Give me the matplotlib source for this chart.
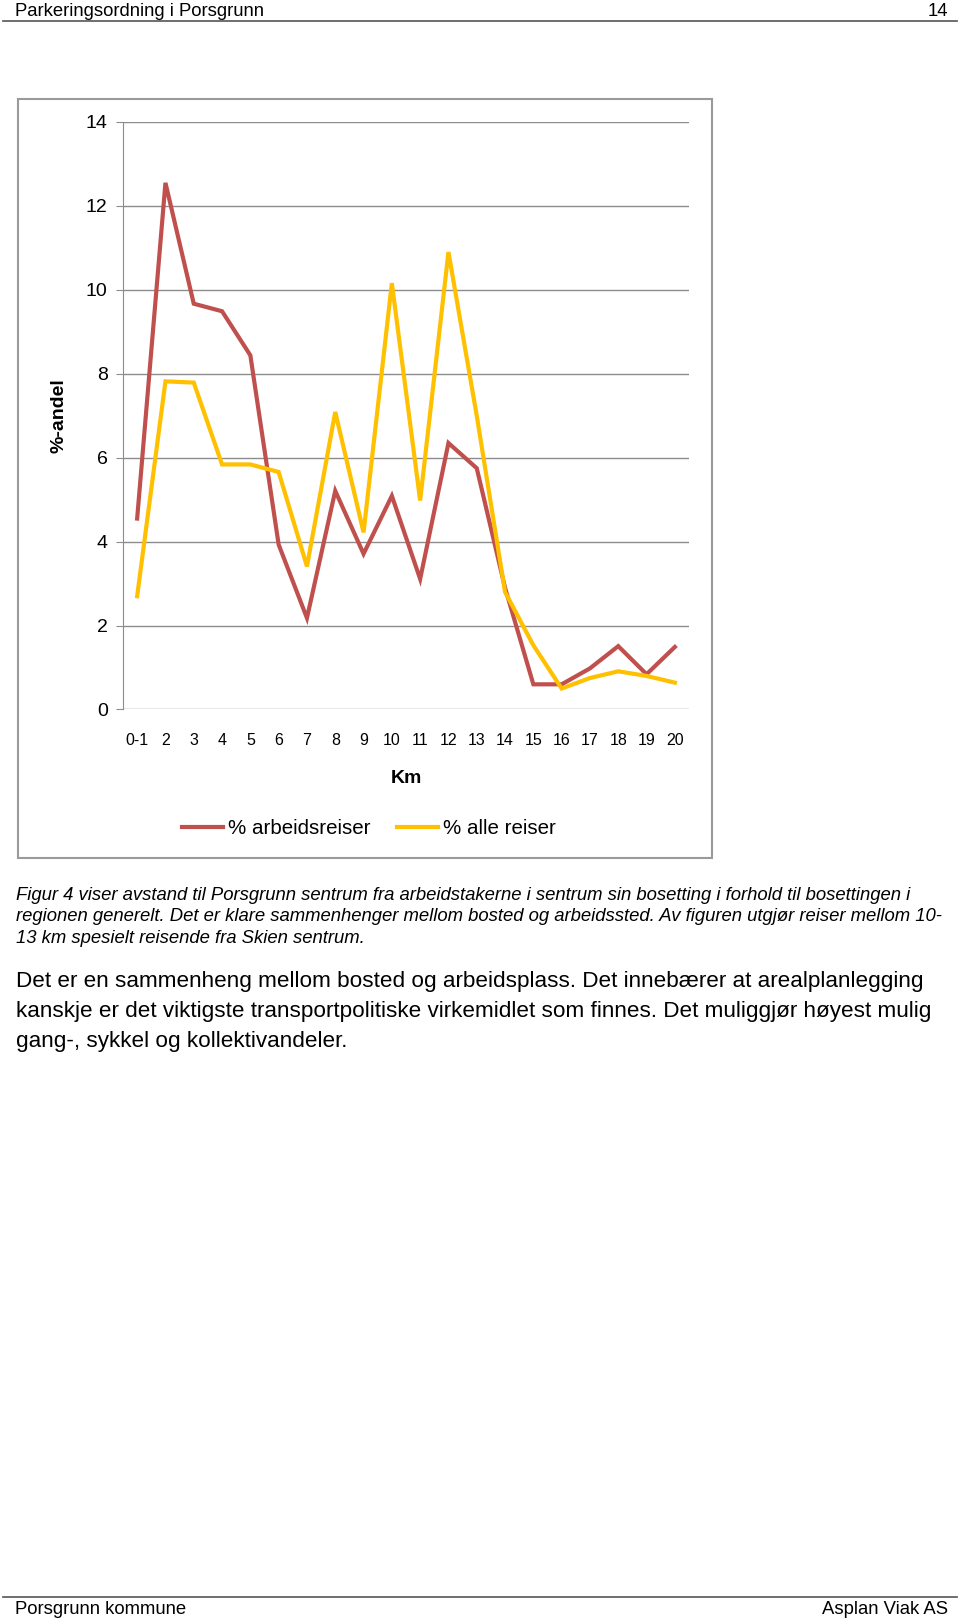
import matplotlib
matplotlib.use("Agg")
import matplotlib.pyplot as plt
from matplotlib.patches import Rectangle
from matplotlib.lines import Line2D

plt.rcParams['font.family'] = ['Liberation Sans', 'DejaVu Sans']

# data
km = ['0-1', '2', '3', '4', '5', '6', '7', '8', '9', '10', '11', '12', '13',
      '14', '15', '16', '17', '18', '19', '20']
arbeidsreiser = [4.55, 12.55, 9.67, 9.49, 8.44, 3.93, 2.18, 5.21, 3.71, 5.09, 3.11,
                 6.35, 5.75, 2.9, 0.6, 0.6, 0.98, 1.51, 0.84, 1.49]
alle_reiser = [2.70, 7.82, 7.79, 5.84, 5.84, 5.66, 3.41, 7.09, 4.22, 10.16, 4.98,
               10.9, 7.0, 2.8, 1.53, 0.5, 0.75, 0.91, 0.8, 0.64]
yticks = [0, 2, 4, 6, 8, 10, 12, 14]

header_left = 'Parkeringsordning i Porsgrunn'
header_right = '14'
footer_left = 'Porsgrunn kommune'
footer_right = 'Asplan Viak AS'
caption = ['Figur 4 viser avstand til Porsgrunn sentrum fra arbeidstakerne i sentrum sin bosetting i forhold til bosettingen i',
           'regionen generelt. Det er klare sammenhenger mellom bosted og arbeidssted. Av figuren utgjør reiser mellom 10-',
           '13 km spesielt reisende fra Skien sentrum.']
body = ['Det er en sammenheng mellom bosted og arbeidsplass. Det innebærer at arealplanlegging',
        'kanskje er det viktigste transportpolitiske virkemidlet som finnes. Det muliggjør høyest mulig',
        'gang-, sykkel og kollektivandeler.']

RED = '#C0504D'
YEL = '#FFC000'
GRID = '#8C8C8C'

W, H = 960, 1620
fig = plt.figure(figsize=(W / 100, H / 100), dpi=100)

def fx(px):
    return px / W

def fy(py):
    return 1 - py / H

# page header / footer
fig.text(fx(15), fy(11), header_left, fontsize=13.3, va='center', ha='left')
fig.text(fx(948), fy(11), header_right, fontsize=13.3, va='center', ha='right')
fig.add_artist(Line2D([fx(3), fx(957)], [fy(21), fy(21)], color='#555555', lw=1.2))
fig.add_artist(Line2D([fx(3), fx(957)], [fy(1597), fy(1597)], color='#555555', lw=1.2))
fig.text(fx(15), fy(1609), footer_left, fontsize=13.3, va='center', ha='left')
fig.text(fx(948), fy(1609), footer_right, fontsize=13.3, va='center', ha='right')

# chart frame
fig.add_artist(Rectangle((fx(17.5), fy(858)), fx(712) - fx(17.5), fy(99) - fy(858),
                         transform=fig.transFigure, fill=False, edgecolor='#9A9A9A', lw=1.5))

ax = fig.add_axes([fx(123), fy(709.5), fx(689) - fx(123), fy(122) - fy(709.5)])
x = range(len(km))
ax.plot(x, arbeidsreiser, color=RED, lw=3, solid_joinstyle='miter')
ax.plot(x, alle_reiser, color=YEL, lw=3, solid_joinstyle='miter')
ax.set_xlim(-0.5, len(km) - 0.5)
ax.set_ylim(0, 14)
ax.set_yticks(yticks)
ax.set_xticks(list(x))
ax.set_xticklabels(km)
ax.grid(axis='y', color=GRID, lw=1)
ax.set_axisbelow(True)
for s in ['top', 'right', 'bottom']:
    ax.spines[s].set_visible(False)
ax.spines['left'].set_color(GRID)
ax.tick_params(axis='y', colors=GRID, labelcolor='black', labelsize=14, length=5, pad=6)
ax.tick_params(axis='x', length=0, labelsize=11.5, pad=17)
ax.set_xlabel('Km', fontsize=14, fontweight='bold', labelpad=16)
ax.set_ylabel('%-andel', fontsize=14, fontweight='bold', labelpad=13)

# legend
handles = [Line2D([], [], color=RED, lw=3), Line2D([], [], color=YEL, lw=3)]
fig.legend(handles, ['% arbeidsreiser', '% alle reiser'], loc='center',
           bbox_to_anchor=(fx(369), fy(829)), ncol=2, frameon=False,
           fontsize=14.8, handlelength=2.0, handletextpad=0.25, columnspacing=1.3)

# caption (italic) and body text
for i, line in enumerate(caption):
    fig.text(fx(15.5), fy(895 + 21.6 * i), line, fontsize=13.3, style='italic',
             va='center', ha='left')
for i, line in enumerate(body):
    fig.text(fx(15.5), fy(982 + 30 * i), line, fontsize=16.2, va='center', ha='left')

fig.savefig('out.png', dpi=100)
